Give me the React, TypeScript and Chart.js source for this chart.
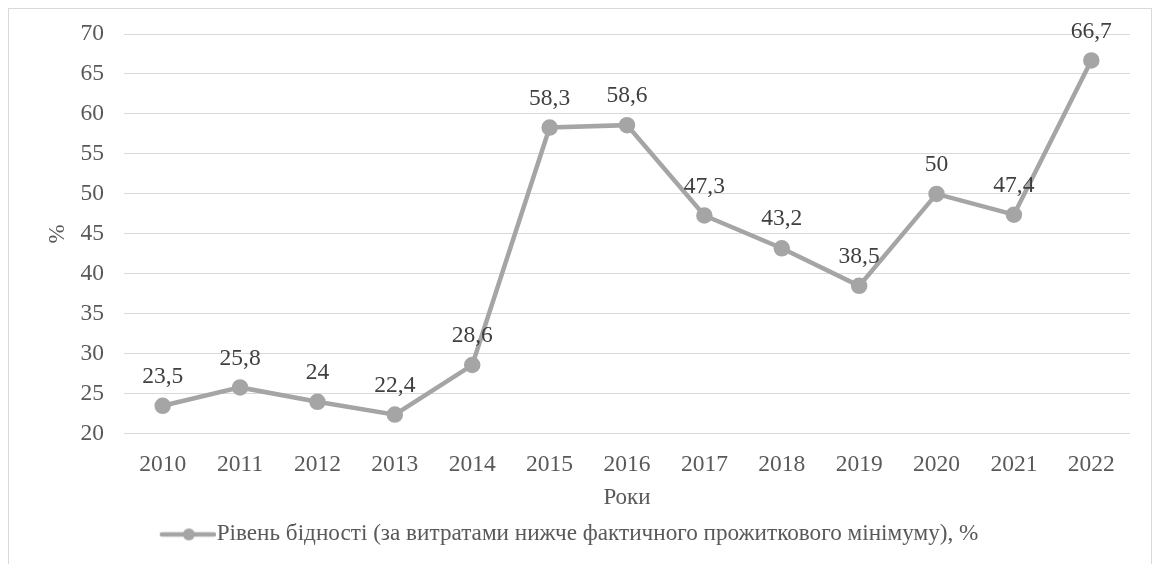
import React, { useEffect, useRef } from "react";
import { Chart, registerables } from "chart.js";

Chart.register(...registerables);

const years = ["2010", "2011", "2012", "2013", "2014", "2015", "2016", "2017", "2018", "2019", "2020", "2021", "2022"];
const poverty = [23.5, 25.8, 24, 22.4, 28.6, 58.3, 58.6, 47.3, 43.2, 38.5, 50, 47.4, 66.7];
const seriesLabel = "Рівень бідності (за витратами нижче фактичного прожиткового мінімуму), %";
const xTitle = "Роки";
const yTitle = "%";

const FONT = "'Liberation Serif', 'Times New Roman', serif";
const LINE = "#a5a5a5";
const TXT = "#595959";

const fmt = (v: number) => String(v).replace(".", ",");

const dataLabels = {
  id: "dataLabels",
  afterDatasetsDraw(chart: any) {
    const ctx = chart.ctx;
    const meta = chart.getDatasetMeta(0);
    ctx.save();
    ctx.font = `23.5px ${FONT}`;
    ctx.fillStyle = "#404040";
    ctx.textAlign = "center";
    ctx.textBaseline = "middle";
    meta.data.forEach((pt: any, i: number) => {
      ctx.fillText(fmt(poverty[i]), pt.x, pt.y - 29);
    });
    ctx.restore();
  },
};

export default function App() {
  const ref = useRef<HTMLCanvasElement>(null);
  useEffect(() => {
    const img = document.createElement("canvas");
    img.width = 66;
    img.height = 14;
    const ic = img.getContext("2d")!;
    ic.strokeStyle = LINE;
    ic.lineWidth = 4.5;
    ic.lineCap = "round";
    ic.beginPath();
    ic.moveTo(12, 7);
    ic.lineTo(64, 7);
    ic.stroke();
    ic.fillStyle = LINE;
    ic.beginPath();
    ic.arc(39, 7, 6, 0, Math.PI * 2);
    ic.fill();

    const chart = new Chart(ref.current!, {
      type: "line",
      data: {
        labels: years,
        datasets: [
          {
            label: seriesLabel,
            data: poverty,
            borderColor: LINE,
            backgroundColor: LINE,
            borderWidth: 4.5,
            pointRadius: 6,
            pointBackgroundColor: LINE,
            pointBorderColor: LINE,
            pointStyle: "circle",
            tension: 0,
          },
        ],
      },
      options: {
        animation: false,
        responsive: false,
        layout: { padding: { left: 0, right: 21, top: 25, bottom: 23 } },
        plugins: {
          tooltip: { enabled: false },
          legend: {
            position: "bottom",
            labels: {
              usePointStyle: true,
              pointStyleWidth: 44.4,
              color: TXT,
              font: { family: FONT, size: 23.2 },
              padding: 6,
              generateLabels: () => [
                {
                  text: seriesLabel,
                  pointStyle: img,
                  fillStyle: LINE,
                  strokeStyle: LINE,
                  lineWidth: 0,
                  hidden: false,
                  datasetIndex: 0,
                  fontColor: TXT,
                },
              ],
            },
          },
        },
        scales: {
          x: {
            offset: true,
            grid: { display: false, drawTicks: false },
            border: { display: false },
            ticks: { color: TXT, font: { family: FONT, size: 23.5 }, padding: 17, maxRotation: 0 },
            title: { display: true, text: xTitle, color: TXT, font: { family: FONT, size: 23 }, padding: { top: 0, bottom: 5 } },
            afterFit: (s: any) => {
              s.height = 83;
              s.paddingLeft = 0;
              s.paddingRight = 0;
            },
          },
          y: {
            min: 20,
            max: 70,
            grid: { color: "#d9d9d9", lineWidth: 1, drawTicks: false },
            border: { display: false },
            ticks: { stepSize: 5, color: TXT, font: { family: FONT, size: 23.5 }, padding: 20 },
            title: { display: true, text: yTitle, color: TXT, font: { family: FONT, size: 23 }, padding: { top: 35, bottom: 0 } },
            afterFit: (s: any) => {
              s.width = 115;
              s.paddingTop = 0;
              s.paddingBottom = 0;
            },
          },
        },
      },
      plugins: [dataLabels],
    });
    return () => chart.destroy();
  }, []);
  return (
    <div style={{ width: 1142, height: 570, border: "1px solid #d9d9d9", background: "#fff" }}>
      <canvas ref={ref} width={1142} height={570} style={{ display: "block" }} />
    </div>
  );
}
